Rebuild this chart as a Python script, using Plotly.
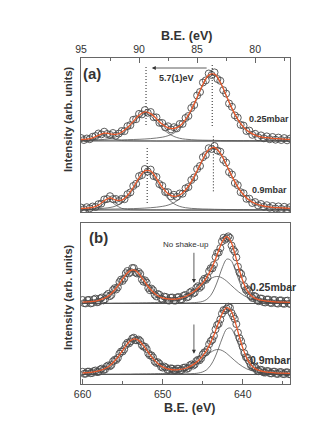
import plotly.graph_objects as go

# ---------------- DATA ----------------
# Panel (a): Mn 3s region (B.E. in eV), intensities in arbitrary units
E_a_curve = [95.0, 94.5, 94.0, 93.5, 93.0, 92.5, 92.0, 91.5, 91.0, 90.5, 90.0, 89.5, 89.0,
             88.5, 88.0, 87.5, 87.0, 86.5, 86.0, 85.5, 85.0, 84.5, 84.0, 83.5, 83.0, 82.5,
             82.0, 81.5, 81.0, 80.5, 80.0, 79.5, 79.0, 78.5, 78.0, 77.5, 77.0]

fit_a_025 = [72.5, 72.9, 74.1, 76.7, 78.9, 78.2, 77.6, 79.8, 84.4, 90.6, 96.7, 100.1, 98.4,
             93.2, 87.7, 84.2, 83.5, 86.0, 92.4, 102.2, 114.7, 127.7, 136.9, 137.8, 129.7, 116.8,
             103.6, 92.7, 84.9, 79.9, 76.9, 75.2, 74.3, 73.7, 73.3, 72.9, 72.6]
c1_a_025 = [71.3, 71.5, 72.5, 74.8, 76.5, 74.8, 72.5, 71.5, 71.3, 71.2, 71.1, 71.1, 71.1,
            71.0, 71.0, 71.0, 71.0, 71.0, 71.0, 71.0, 71.0, 71.0, 71.0, 71.0, 71.0, 71.0,
            71.0, 71.0, 71.0, 71.0, 71.0, 71.0, 71.0, 71.0, 71.0, 71.0, 71.0]
c2_a_025 = [71.7, 71.8, 71.9, 72.2, 72.6, 73.5, 75.1, 78.1, 82.8, 88.9, 94.9, 98.0, 95.9,
            90.2, 83.9, 78.9, 75.6, 73.7, 72.8, 72.3, 72.0, 71.8, 71.7, 71.6, 71.5, 71.4,
            71.4, 71.3, 71.3, 71.3, 71.2, 71.2, 71.2, 71.2, 71.1, 71.1, 71.1]
c3_a_025 = [71.6, 71.6, 71.7, 71.7, 71.8, 71.9, 72.0, 72.1, 72.3, 72.5, 72.7, 73.0, 73.4,
            74.0, 74.8, 76.3, 78.9, 83.3, 90.6, 100.9, 113.7, 126.9, 136.2, 137.2, 129.2, 116.4,
            103.2, 92.4, 84.6, 79.6, 76.7, 75.0, 74.1, 73.5, 73.1, 72.8, 72.5]
base_a_025 = 71.0

fit_a_09 = [3.5, 3.9, 4.6, 6.7, 11.3, 14.2, 11.9, 11.9, 16.5, 24.5, 34.2, 41.2, 40.8,
            33.5, 24.7, 18.3, 15.7, 17.0, 22.0, 30.3, 41.3, 53.0, 62.2, 64.5, 58.8, 47.8,
            35.8, 25.2, 17.2, 11.7, 8.5, 6.6, 5.4, 4.7, 4.3, 4.0, 3.7]
c1_a_09 = [2.3, 2.4, 2.9, 4.7, 8.8, 10.8, 6.9, 3.7, 2.6, 2.3, 2.2, 2.2, 2.1,
           2.1, 2.1, 2.1, 2.1, 2.1, 2.0, 2.0, 2.0, 2.0, 2.0, 2.0, 2.0, 2.0,
           2.0, 2.0, 2.0, 2.0, 2.0, 2.0, 2.0, 2.0, 2.0, 2.0, 2.0]
c2_a_09 = [2.8, 2.9, 3.1, 3.3, 3.8, 4.5, 6.0, 9.1, 14.6, 22.8, 32.4, 39.1, 38.4,
           30.6, 21.0, 13.3, 8.3, 5.6, 4.3, 3.6, 3.3, 3.0, 2.9, 2.7, 2.6, 2.5,
           2.5, 2.4, 2.4, 2.3, 2.3, 2.3, 2.2, 2.2, 2.2, 2.2, 2.2]
c3_a_09 = [2.5, 2.6, 2.6, 2.7, 2.8, 2.9, 3.0, 3.1, 3.3, 3.4, 3.6, 3.9, 4.3,
           4.8, 5.6, 6.9, 9.3, 13.3, 19.6, 28.7, 40.0, 52.0, 61.3, 63.8, 58.2, 47.3,
           35.3, 24.8, 16.8, 11.4, 8.2, 6.3, 5.2, 4.5, 4.1, 3.8, 3.5]
base_a_09 = 2.0

E_a_data = [95.00, 94.75, 94.50, 94.25, 94.00, 93.75, 93.50, 93.25, 93.00, 92.75,
            92.50, 92.25, 92.00, 91.75, 91.50, 91.25, 91.00, 90.75, 90.50, 90.25,
            90.00, 89.75, 89.50, 89.25, 89.00, 88.75, 88.50, 88.25, 88.00, 87.75,
            87.50, 87.25, 87.00, 86.75, 86.50, 86.25, 86.00, 85.75, 85.50, 85.25,
            85.00, 84.75, 84.50, 84.25, 84.00, 83.75, 83.50, 83.25, 83.00, 82.75,
            82.50, 82.25, 82.00, 81.75, 81.50, 81.25, 81.00, 80.75, 80.50, 80.25,
            80.00, 79.75, 79.50, 79.25, 79.00, 78.75, 78.50, 78.25, 78.00, 77.75,
            77.50, 77.25, 77.00]
data_a_025 = [74.0, 72.0, 73.5, 72.8, 75.2, 76.0, 78.5, 77.6, 80.3, 78.0,
              77.1, 79.0, 76.3, 78.4, 81.0, 80.9, 85.8, 86.9, 92.2, 92.8,
              98.1, 97.6, 101.9, 99.2, 100.0, 94.8, 94.6, 89.2, 89.0, 84.6,
              85.7, 82.6, 84.8, 83.6, 88.0, 88.1, 94.0, 96.0, 104.0, 107.0,
              116.5, 120.0, 129.5, 131.6, 138.5, 137.0, 139.6, 133.0, 131.2, 121.8,
              118.4, 108.5, 105.2, 96.6, 94.3, 87.2, 86.4, 81.0, 81.4, 77.2,
              78.2, 74.8, 76.6, 73.7, 75.6, 72.8, 75.0, 72.3, 74.4, 72.0,
              73.9, 71.7, 73.4]
data_a_09 = [4.5, 2.8, 4.8, 3.6, 5.5, 5.0, 7.8, 8.4, 12.5, 13.0,
             15.8, 12.9, 13.0, 11.0, 13.1, 12.8, 17.8, 19.6, 26.0, 28.2,
             35.8, 37.0, 43.0, 40.5, 42.4, 36.0, 35.0, 27.9, 26.2, 20.0,
             19.8, 15.6, 17.2, 15.2, 18.5, 18.3, 23.6, 25.0, 32.0, 34.6,
             43.0, 46.0, 54.8, 57.0, 63.8, 63.0, 66.0, 61.4, 60.3, 52.2,
             49.4, 40.0, 37.5, 29.0, 26.8, 19.8, 18.7, 13.2, 13.3, 9.0,
             9.9, 6.6, 8.0, 5.2, 6.8, 4.2, 6.0, 3.5, 5.6, 3.1,
             5.2, 2.9, 4.8]

# peak markers (dotted lines): energy, lower, upper intensity
peaks_a_025 = [(89.4, 87.0, 146.0), (83.7, 86.0, 149.0)]
peaks_a_09 = [(89.3, 9.0, 66.0), (83.6, 20.7, 77.3)]

# Panel (b): Mn 2p region
E_b_curve = [660, 659, 658, 657, 656.5, 656, 655.5, 655, 654.5, 654, 653.5, 653, 652.5, 652,
             651.5, 651, 650.5, 650, 649, 648, 647, 646, 645.5, 645, 644.5, 644, 643.5, 643,
             642.5, 642, 641.5, 641, 640.5, 640, 639.5, 639, 638.5, 638, 637, 636, 635, 634]
fit_b_025 = [81.9, 82.4, 83.7, 86.9, 89.8, 94.0, 99.1, 105.0, 110.3, 113.7, 113.8, 110.5, 105.2, 99.5,
             94.5, 90.5, 87.8, 86.1, 84.8, 85.4, 88.0, 93.0, 96.7, 101.1, 106.7, 113.9, 123.0, 133.6,
             143.1, 147.4, 142.7, 130.6, 115.9, 103.2, 94.1, 88.8, 85.9, 84.4, 82.9, 82.2, 81.8, 81.6]
broad_b_025 = [80.7, 80.7, 80.8, 80.8, 80.8, 80.9, 80.9, 80.9, 81.0, 81.0, 81.1, 81.1, 81.2, 81.2,
               81.3, 81.4, 81.6, 81.8, 82.4, 83.7, 86.5, 91.4, 94.7, 98.4, 102.1, 105.3, 107.2, 107.4,
               105.7, 102.8, 99.1, 95.4, 92.0, 89.2, 86.8, 85.1, 83.9, 83.0, 82.1, 81.6, 81.3, 81.2]
narrow_b_025 = [80.6, 80.6, 80.6, 80.6, 80.6, 80.6, 80.6, 80.6, 80.6, 80.6, 80.6, 80.6, 80.65, 80.7,
                80.7, 80.7, 80.7, 80.75, 80.8, 80.9, 81.1, 81.4, 81.8, 82.6, 84.6, 88.6, 95.9, 106.3,
                117.5, 124.8, 123.8, 115.4, 104.1, 94.2, 87.6, 84.0, 82.3, 81.7, 81.1, 81.0, 80.8, 80.8]
base_b_025 = 80.5

fit_b_09 = [11.0, 11.6, 13.0, 16.3, 19.1, 23.0, 27.9, 33.6, 39.1, 43.5, 45.1, 43.6, 39.3, 33.9,
            28.4, 23.6, 19.8, 17.2, 14.5, 14.3, 16.0, 20.4, 23.8, 28.2, 33.9, 41.6, 51.1, 61.7,
            71.3, 76.4, 73.7, 63.4, 49.4, 36.1, 25.9, 19.3, 15.6, 13.6, 11.9, 11.2, 10.8, 10.6]
broad_b_09 = [9.7, 9.7, 9.7, 9.8, 9.8, 9.8, 9.8, 9.9, 9.9, 9.9, 10.0, 10.0, 10.1, 10.1,
              10.2, 10.3, 10.4, 10.5, 11.0, 12.0, 14.1, 18.4, 21.4, 24.8, 28.4, 31.7, 33.9, 34.5,
              33.2, 30.5, 27.0, 23.4, 20.1, 17.3, 15.1, 13.6, 12.4, 11.7, 10.9, 10.5, 10.3, 10.1]
narrow_b_09 = [9.6, 9.6, 9.6, 9.6, 9.6, 9.6, 9.6, 9.6, 9.6, 9.6, 9.7, 9.7, 9.7, 9.7,
               9.7, 9.7, 9.8, 9.8, 9.9, 10.0, 10.2, 10.5, 11.0, 12.1, 14.3, 18.8, 26.1, 36.2,
               47.1, 55.0, 55.8, 49.1, 38.5, 28.0, 20.0, 15.0, 12.4, 11.2, 10.3, 10.1, 9.9, 9.8]
base_b_09 = 9.5

E_b_data = [660.0, 659.6, 659.2, 658.8, 658.4, 658.0, 657.6, 657.2, 656.8, 656.4, 656.0,
            655.6, 655.2, 654.8, 654.4, 654.0, 653.6, 653.2, 652.8, 652.4, 652.0, 651.6,
            651.2, 650.8, 650.4, 650.0, 649.6, 649.2, 648.8, 648.4, 648.0, 647.6, 647.2,
            646.8, 646.4, 646.0, 645.6, 645.2, 644.8, 644.4, 644.0, 643.6, 643.2, 642.8,
            642.4, 642.0, 641.6, 641.2, 640.8, 640.4, 640.0, 639.6, 639.2, 638.8, 638.4,
            638.0, 637.6, 637.2, 636.8, 636.4, 636.0, 635.6, 635.2, 634.8, 634.4, 634.0]
data_b_025 = [84.0, 80.6, 84.1, 81.0, 85.4, 82.2, 86.5, 84.8, 90.2, 89.1, 95.8,
              96.6, 104.4, 105.5, 113.0, 112.0, 115.9, 110.5, 110.1, 102.3, 101.4, 93.8,
              93.8, 87.6, 89.2, 84.5, 87.0, 83.4, 86.5, 83.4, 87.0, 84.7, 89.0,
              87.2, 92.6, 91.4, 97.8, 97.6, 105.2, 106.4, 115.8, 119.2, 131.2, 135.8,
              146.2, 145.8, 146.1, 134.5, 126.6, 111.6, 105.0, 94.1, 92.8, 86.0, 87.4,
              82.8, 85.3, 81.5, 84.5, 80.9, 84.0, 80.4, 83.6, 80.2, 83.4, 80.0]
data_b_09 = [12.2, 10.3, 12.4, 11.0, 13.5, 12.1, 15.4, 14.6, 18.6, 19.0, 24.2,
             26.0, 32.5, 34.8, 41.3, 42.6, 46.3, 43.7, 42.9, 37.3, 35.0, 28.6,
             26.6, 21.1, 20.3, 16.4, 16.6, 14.0, 15.4, 13.5, 15.2, 14.0, 16.5,
             15.9, 19.6, 19.6, 24.2, 25.6, 31.7, 34.4, 42.9, 48.2, 58.9, 64.5,
             73.9, 75.4, 76.3, 67.8, 59.9, 45.8, 37.5, 26.9, 23.2, 16.9, 16.3,
             12.8, 13.9, 11.4, 12.8, 10.6, 12.3, 10.1, 11.9, 9.9, 11.7, 9.7]

# interleaved (second pass) data points for panel (b)
E_b_data2 = [659.8, 659.4, 659.0, 658.6, 658.2, 657.8, 657.4, 657.0, 656.6, 656.2, 655.8,
             655.4, 655.0, 654.6, 654.2, 653.8, 653.4, 653.0, 652.6, 652.2, 651.8, 651.4,
             651.0, 650.6, 650.2, 649.8, 649.4, 649.0, 648.6, 648.2, 647.8, 647.4, 647.0,
             646.6, 646.2, 645.8, 645.4, 645.0, 644.6, 644.2, 643.8, 643.4, 643.0, 642.6,
             642.2, 641.8, 641.4, 641.0, 640.6, 640.2, 639.8, 639.4, 639.0, 638.6, 638.2,
             637.8, 637.4, 637.0, 636.6, 636.2, 635.8, 635.4, 635.0, 634.6, 634.2]
data2_b_025 = [80.8, 83.9, 80.6, 84.6, 81.7, 85.6, 83.6, 88.6, 87.8, 94.0, 94.5,
               102.0, 103.1, 110.8, 110.6, 116.0, 111.5, 112.0, 104.6, 103.6, 96.0, 95.4,
               89.3, 90.0, 85.3, 87.4, 83.8, 86.3, 83.5, 86.6, 84.4, 88.2, 86.6,
               91.5, 90.5, 96.2, 96.1, 103.0, 104.2, 112.8, 115.6, 126.9, 131.5, 142.6,
               144.3, 147.6, 138.5, 132.4, 117.3, 110.1, 97.8, 94.8, 87.8, 88.1, 83.6,
               85.5, 81.9, 84.5, 81.3, 83.9, 80.8, 83.5, 80.5, 83.2, 80.3]
data2_b_09 = [10.2, 12.3, 10.8, 12.9, 11.9, 14.6, 14.0, 17.5, 17.7, 22.6, 24.0,
              30.3, 32.5, 39.2, 40.6, 45.5, 43.9, 44.4, 38.8, 37.3, 30.6, 28.7,
              22.6, 21.8, 17.2, 17.5, 14.2, 15.6, 13.4, 15.3, 13.6, 16.2, 15.1,
              18.7, 18.4, 22.9, 23.7, 29.6, 31.8, 39.8, 44.2, 54.6, 60.2, 70.3,
              73.6, 77.3, 71.0, 65.0, 51.4, 42.8, 30.8, 26.2, 18.8, 17.5, 13.4,
              14.3, 11.6, 13.0, 10.7, 12.3, 10.2, 11.9, 10.0, 11.7, 9.8]

ticks_a = [95, 90, 85, 80]
minor_a = [92.5, 87.5, 82.5, 77.5]
ticks_b = [660, 650, 640]
minor_b = [655, 645, 635]

# ---------------- FIGURE ----------------
FONT = "Liberation Sans, Arial, sans-serif"
FRAME = "#666666"
TXT = "#333333"
FIT = "#e8582a"
COMP = "#555555"
MARK = "#4a4a4a"

fig = go.Figure()


def add_spectrum(xa, ya, Ec, fit, comps, base, Ed, data):
    fig.add_trace(go.Scatter(x=[Ec[0], Ec[-1]], y=[base, base], mode="lines",
                             line=dict(color=COMP, width=1), xaxis=xa, yaxis=ya,
                             hoverinfo="skip"))
    for c in comps:
        fig.add_trace(go.Scatter(x=Ec, y=c, mode="lines", line=dict(color=COMP, width=0.8, shape="spline"),
                                 xaxis=xa, yaxis=ya, hoverinfo="skip"))
    fig.add_trace(go.Scatter(x=Ed, y=data, mode="markers",
                             marker=dict(symbol="circle-open", size=7, color=MARK, line=dict(width=0.9)),
                             xaxis=xa, yaxis=ya))
    fig.add_trace(go.Scatter(x=Ec, y=fit, mode="lines", line=dict(color=FIT, width=1.3, shape="spline"),
                             xaxis=xa, yaxis=ya))


add_spectrum("x", "y", E_a_curve, fit_a_025, [c1_a_025, c2_a_025, c3_a_025], base_a_025, E_a_data, data_a_025)
add_spectrum("x", "y", E_a_curve, fit_a_09, [c1_a_09, c2_a_09, c3_a_09], base_a_09, E_a_data, data_a_09)
add_spectrum("x2", "y2", E_b_curve, fit_b_025, [broad_b_025, narrow_b_025], base_b_025,
             E_b_data + E_b_data2, data_b_025 + data2_b_025)
add_spectrum("x2", "y2", E_b_curve, fit_b_09, [broad_b_09, narrow_b_09], base_b_09,
             E_b_data + E_b_data2, data_b_09 + data2_b_09)

for (e, lo, hi) in peaks_a_025 + peaks_a_09:
    fig.add_trace(go.Scatter(x=[e, e], y=[lo, hi], mode="lines",
                             line=dict(color="#222222", width=1, dash="1px,2px"),
                             xaxis="x", yaxis="y", hoverinfo="skip"))

axis_common = dict(showgrid=False, zeroline=False, showline=True, linecolor=FRAME, linewidth=1,
                   mirror=True)

fig.update_layout(
    width=327, height=426,
    margin=dict(l=73, r=45, t=50, b=50),
    paper_bgcolor="white", plot_bgcolor="white",
    showlegend=False,
    font=dict(family=FONT, color=TXT),
    xaxis=dict(domain=[0, 1], anchor="y", side="top", range=[95, 77],
               tickvals=ticks_a, ticktext=[str(t) for t in ticks_a],
               ticks="inside", ticklen=5, tickwidth=1, tickcolor=FRAME,
               tickfont=dict(size=10.5, color=TXT, family=FONT),
               minor=dict(tickvals=minor_a, ticks="inside", ticklen=3, tickcolor=FRAME),
               **axis_common),
    yaxis=dict(domain=[0.5276, 1], anchor="x", range=[0, 154], showticklabels=False, ticks="",
               **axis_common),
    xaxis2=dict(domain=[0, 1], anchor="y2", side="bottom", range=[660.2, 634.1],
                tickvals=ticks_b, ticktext=[str(t) for t in ticks_b],
                ticks="inside", ticklen=5, tickwidth=1, tickcolor=FRAME,
                tickfont=dict(size=10.5, color=TXT, family=FONT),
                minor=dict(tickvals=minor_b, ticks="inside", ticklen=3, tickcolor=FRAME),
                **axis_common),
    yaxis2=dict(domain=[0, 0.4939], anchor="x2", range=[0, 161], showticklabels=False, ticks="",
                **axis_common),
)

ann = []


def label(text, x, y, size, bold=True, angle=0):
    ann.append(dict(text=("<b>%s</b>" % text) if bold else text, x=x, y=y, xref="paper", yref="paper",
                    xanchor="center", yanchor="middle", showarrow=False, textangle=angle,
                    font=dict(size=size, color=TXT, family=FONT)))


label("B.E. (eV)", 0.507, 1.0675, 12.5)
label("B.E. (eV)", 0.517, -0.0736, 12.5)
label("Intensity (arb. units)", -0.0622, 0.81, 11, angle=-90)
label("Intensity (arb. units)", -0.0622, 0.264, 11, angle=-90)
label("(a)", 0.0526, 0.951, 15)
label("(b)", 0.0837, 0.448, 15)
label("5.7(1)eV", 0.456, 0.9387, 9)
label("0.25mbar", 0.8995, 0.8114, 9)
label("0.9mbar", 0.902, 0.5966, 9)
label("0.25mbar", 0.921, 0.2975, 10.5)
label("0.9mbar", 0.904, 0.0721, 10.5)
label("No shake-up", 0.5, 0.4279, 8, bold=False)

arrow = dict(showarrow=True, arrowhead=2, arrowsize=1, arrowwidth=0.8, arrowcolor="#333333", text="")
ann.append(dict(x=88.9, y=144, ax=84.05, ay=144, xref="x", yref="y", axref="x", ayref="y", **arrow))
ann.append(dict(x=646.1, y=101, ax=646.1, ay=132.7, xref="x2", yref="y2", axref="x2", ayref="y2", **arrow))
ann.append(dict(x=646.1, y=30.3, ax=646.1, ay=61, xref="x2", yref="y2", axref="x2", ayref="y2", **arrow))

fig.update_layout(annotations=ann)

fig.write_html("out.html")
